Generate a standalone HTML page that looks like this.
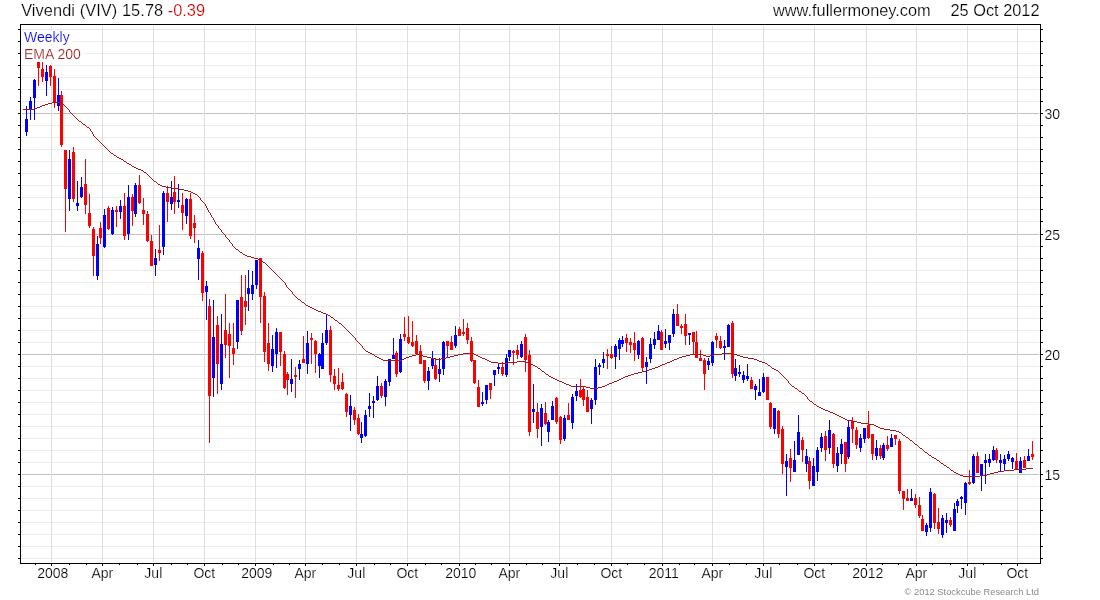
<!DOCTYPE html>
<html lang="en"><head><meta charset="utf-8"><title>Vivendi (VIV) weekly chart</title>
<style>
html,body{margin:0;padding:0;background:#fff;}
body{width:1100px;height:600px;overflow:hidden;font-family:"Liberation Sans",Arial,sans-serif;}
svg{display:block;will-change:transform;}
text{font-family:"Liberation Sans",Arial,sans-serif;stroke:#fff;stroke-width:0.2px;}
.t16{font-size:16.35px;fill:#000;}
.t14{font-size:14px;fill:#000;}
.cr{font-size:9.33px;fill:#8c8c8c;stroke:none;}
.b{fill:#0000ff;}
.r{fill:#ff0000;}
</style></head><body>
<svg width="1100" height="600" viewBox="0 0 1100 600">
<rect x="0" y="0" width="1100" height="600" fill="#ffffff"/>
<g shape-rendering="crispEdges">
<rect x="22" y="29" width="1017" height="1" fill="#ebebeb"/>
<rect x="22" y="41" width="1017" height="1" fill="#ebebeb"/>
<rect x="22" y="53" width="1017" height="1" fill="#ebebeb"/>
<rect x="22" y="65" width="1017" height="1" fill="#ebebeb"/>
<rect x="22" y="77" width="1017" height="1" fill="#ebebeb"/>
<rect x="22" y="89" width="1017" height="1" fill="#ebebeb"/>
<rect x="22" y="101" width="1017" height="1" fill="#ebebeb"/>
<rect x="22" y="113" width="1017" height="1" fill="#c0c0c0"/>
<rect x="22" y="125" width="1017" height="1" fill="#ebebeb"/>
<rect x="22" y="137" width="1017" height="1" fill="#ebebeb"/>
<rect x="22" y="149" width="1017" height="1" fill="#ebebeb"/>
<rect x="22" y="161" width="1017" height="1" fill="#ebebeb"/>
<rect x="22" y="173" width="1017" height="1" fill="#ebebeb"/>
<rect x="22" y="185" width="1017" height="1" fill="#ebebeb"/>
<rect x="22" y="197" width="1017" height="1" fill="#ebebeb"/>
<rect x="22" y="209" width="1017" height="1" fill="#ebebeb"/>
<rect x="22" y="221" width="1017" height="1" fill="#ebebeb"/>
<rect x="22" y="234" width="1017" height="1" fill="#c0c0c0"/>
<rect x="22" y="246" width="1017" height="1" fill="#ebebeb"/>
<rect x="22" y="258" width="1017" height="1" fill="#ebebeb"/>
<rect x="22" y="270" width="1017" height="1" fill="#ebebeb"/>
<rect x="22" y="282" width="1017" height="1" fill="#ebebeb"/>
<rect x="22" y="294" width="1017" height="1" fill="#ebebeb"/>
<rect x="22" y="306" width="1017" height="1" fill="#ebebeb"/>
<rect x="22" y="318" width="1017" height="1" fill="#ebebeb"/>
<rect x="22" y="330" width="1017" height="1" fill="#ebebeb"/>
<rect x="22" y="342" width="1017" height="1" fill="#ebebeb"/>
<rect x="22" y="354" width="1017" height="1" fill="#c0c0c0"/>
<rect x="22" y="366" width="1017" height="1" fill="#ebebeb"/>
<rect x="22" y="378" width="1017" height="1" fill="#ebebeb"/>
<rect x="22" y="390" width="1017" height="1" fill="#ebebeb"/>
<rect x="22" y="402" width="1017" height="1" fill="#ebebeb"/>
<rect x="22" y="414" width="1017" height="1" fill="#ebebeb"/>
<rect x="22" y="426" width="1017" height="1" fill="#ebebeb"/>
<rect x="22" y="438" width="1017" height="1" fill="#ebebeb"/>
<rect x="22" y="450" width="1017" height="1" fill="#ebebeb"/>
<rect x="22" y="462" width="1017" height="1" fill="#ebebeb"/>
<rect x="22" y="474" width="1017" height="1" fill="#c0c0c0"/>
<rect x="22" y="486" width="1017" height="1" fill="#ebebeb"/>
<rect x="22" y="498" width="1017" height="1" fill="#ebebeb"/>
<rect x="22" y="510" width="1017" height="1" fill="#ebebeb"/>
<rect x="22" y="522" width="1017" height="1" fill="#ebebeb"/>
<rect x="22" y="534" width="1017" height="1" fill="#ebebeb"/>
<rect x="22" y="546" width="1017" height="1" fill="#ebebeb"/>
<rect x="22" y="558" width="1017" height="1" fill="#ebebeb"/>
<rect x="51" y="26" width="1" height="536" fill="#dedede"/>
<rect x="102" y="26" width="1" height="536" fill="#dedede"/>
<rect x="153" y="26" width="1" height="536" fill="#dedede"/>
<rect x="204" y="26" width="1" height="536" fill="#dedede"/>
<rect x="255" y="26" width="1" height="536" fill="#dedede"/>
<rect x="305" y="26" width="1" height="536" fill="#dedede"/>
<rect x="356" y="26" width="1" height="536" fill="#dedede"/>
<rect x="407" y="26" width="1" height="536" fill="#dedede"/>
<rect x="459" y="26" width="1" height="536" fill="#dedede"/>
<rect x="509" y="26" width="1" height="536" fill="#dedede"/>
<rect x="559" y="26" width="1" height="536" fill="#dedede"/>
<rect x="611" y="26" width="1" height="536" fill="#dedede"/>
<rect x="662" y="26" width="1" height="536" fill="#dedede"/>
<rect x="712" y="26" width="1" height="536" fill="#dedede"/>
<rect x="763" y="26" width="1" height="536" fill="#dedede"/>
<rect x="814" y="26" width="1" height="536" fill="#dedede"/>
<rect x="866" y="26" width="1" height="536" fill="#dedede"/>
<rect x="916" y="26" width="1" height="536" fill="#dedede"/>
<rect x="967" y="26" width="1" height="536" fill="#dedede"/>
<rect x="1017" y="26" width="1" height="536" fill="#dedede"/>
</g>
<rect x="21" y="30" width="52" height="15" fill="#fff"/>
<rect x="21" y="46" width="64" height="16" fill="#fff"/>
<g shape-rendering="crispEdges">
<rect class="b" x="26" y="106" width="1" height="30"/><rect class="b" x="25" y="119" width="3" height="13"/>
<rect class="b" x="30" y="97" width="1" height="23"/><rect class="b" x="29" y="101" width="3" height="8"/>
<rect class="b" x="34" y="79" width="1" height="41"/><rect class="b" x="33" y="80" width="3" height="18"/>
<rect class="r" x="38" y="62" width="1" height="24"/><rect class="r" x="37" y="62" width="3" height="6"/>
<rect class="r" x="42" y="62" width="1" height="20"/><rect class="r" x="41" y="69" width="3" height="8"/>
<rect class="b" x="46" y="65" width="1" height="31"/><rect class="b" x="45" y="72" width="3" height="9"/>
<rect class="r" x="50" y="65" width="1" height="21"/><rect class="r" x="49" y="66" width="3" height="11"/>
<rect class="r" x="54" y="69" width="1" height="39"/><rect class="r" x="53" y="76" width="3" height="26"/>
<rect class="b" x="58" y="78" width="1" height="33"/><rect class="b" x="57" y="95" width="3" height="11"/>
<rect class="r" x="61" y="91" width="1" height="56"/><rect class="r" x="60" y="95" width="3" height="50"/>
<rect class="r" x="65" y="150" width="1" height="82"/><rect class="r" x="64" y="150" width="3" height="39"/>
<rect class="b" x="69" y="150" width="1" height="61"/><rect class="b" x="68" y="159" width="3" height="40"/>
<rect class="r" x="73" y="147" width="1" height="55"/><rect class="r" x="72" y="152" width="3" height="47"/>
<rect class="b" x="77" y="181" width="1" height="30"/><rect class="b" x="76" y="203" width="3" height="3"/>
<rect class="b" x="81" y="177" width="1" height="21"/><rect class="b" x="80" y="187" width="3" height="10"/>
<rect class="r" x="85" y="159" width="1" height="55"/><rect class="r" x="84" y="184" width="3" height="21"/>
<rect class="r" x="89" y="194" width="1" height="34"/><rect class="r" x="88" y="213" width="3" height="13"/>
<rect class="r" x="93" y="227" width="1" height="49"/><rect class="r" x="92" y="229" width="3" height="27"/>
<rect class="b" x="97" y="236" width="1" height="44"/><rect class="b" x="96" y="244" width="3" height="32"/>
<rect class="r" x="100" y="222" width="1" height="22"/><rect class="r" x="99" y="228" width="3" height="10"/>
<rect class="b" x="104" y="209" width="1" height="39"/><rect class="b" x="103" y="215" width="3" height="32"/>
<rect class="r" x="108" y="206" width="1" height="24"/><rect class="r" x="107" y="208" width="3" height="21"/>
<rect class="b" x="112" y="207" width="1" height="28"/><rect class="b" x="111" y="210" width="3" height="24"/>
<rect class="r" x="116" y="206" width="1" height="21"/><rect class="r" x="115" y="210" width="3" height="2"/>
<rect class="b" x="120" y="200" width="1" height="19"/><rect class="b" x="119" y="206" width="3" height="6"/>
<rect class="r" x="124" y="193" width="1" height="47"/><rect class="r" x="123" y="206" width="3" height="30"/>
<rect class="b" x="128" y="185" width="1" height="55"/><rect class="b" x="127" y="197" width="3" height="37"/>
<rect class="r" x="132" y="194" width="1" height="32"/><rect class="r" x="131" y="197" width="3" height="14"/>
<rect class="b" x="135" y="183" width="1" height="34"/><rect class="b" x="134" y="185" width="3" height="29"/>
<rect class="r" x="139" y="175" width="1" height="29"/><rect class="r" x="138" y="185" width="3" height="18"/>
<rect class="r" x="143" y="198" width="1" height="27"/><rect class="r" x="142" y="210" width="3" height="4"/>
<rect class="r" x="147" y="211" width="1" height="31"/><rect class="r" x="146" y="214" width="3" height="27"/>
<rect class="r" x="151" y="235" width="1" height="31"/><rect class="r" x="150" y="241" width="3" height="25"/>
<rect class="b" x="155" y="249" width="1" height="27"/><rect class="b" x="154" y="258" width="3" height="7"/>
<rect class="r" x="159" y="225" width="1" height="36"/><rect class="r" x="158" y="250" width="3" height="3"/>
<rect class="b" x="163" y="191" width="1" height="64"/><rect class="b" x="162" y="193" width="3" height="54"/>
<rect class="r" x="167" y="186" width="1" height="36"/><rect class="r" x="166" y="193" width="3" height="9"/>
<rect class="b" x="171" y="181" width="1" height="29"/><rect class="b" x="170" y="197" width="3" height="7"/>
<rect class="r" x="174" y="176" width="1" height="38"/><rect class="r" x="173" y="192" width="3" height="10"/>
<rect class="b" x="178" y="184" width="1" height="24"/><rect class="b" x="177" y="200" width="3" height="2"/>
<rect class="r" x="182" y="193" width="1" height="37"/><rect class="r" x="181" y="205" width="3" height="8"/>
<rect class="b" x="186" y="198" width="1" height="26"/><rect class="b" x="185" y="199" width="3" height="17"/>
<rect class="r" x="190" y="193" width="1" height="46"/><rect class="r" x="189" y="199" width="3" height="37"/>
<rect class="r" x="194" y="215" width="1" height="28"/><rect class="r" x="193" y="223" width="3" height="5"/>
<rect class="b" x="198" y="240" width="1" height="40"/><rect class="b" x="197" y="248" width="3" height="11"/>
<rect class="r" x="202" y="251" width="1" height="50"/><rect class="r" x="201" y="253" width="3" height="40"/>
<rect class="b" x="206" y="281" width="1" height="39"/><rect class="b" x="205" y="286" width="3" height="6"/>
<rect class="r" x="209" y="299" width="1" height="144"/><rect class="r" x="208" y="306" width="3" height="90"/>
<rect class="b" x="213" y="300" width="1" height="97"/><rect class="b" x="212" y="337" width="3" height="41"/>
<rect class="r" x="217" y="316" width="1" height="78"/><rect class="r" x="216" y="325" width="3" height="39"/>
<rect class="b" x="221" y="314" width="1" height="76"/><rect class="b" x="220" y="344" width="3" height="40"/>
<rect class="r" x="225" y="294" width="1" height="64"/><rect class="r" x="224" y="330" width="3" height="15"/>
<rect class="r" x="229" y="323" width="1" height="55"/><rect class="r" x="228" y="334" width="3" height="12"/>
<rect class="r" x="233" y="323" width="1" height="42"/><rect class="r" x="232" y="348" width="3" height="6"/>
<rect class="b" x="237" y="300" width="1" height="49"/><rect class="b" x="236" y="300" width="3" height="42"/>
<rect class="r" x="241" y="275" width="1" height="60"/><rect class="r" x="240" y="297" width="3" height="34"/>
<rect class="r" x="245" y="275" width="1" height="50"/><rect class="r" x="244" y="301" width="3" height="6"/>
<rect class="b" x="248" y="270" width="1" height="41"/><rect class="b" x="247" y="288" width="3" height="6"/>
<rect class="b" x="252" y="271" width="1" height="29"/><rect class="b" x="251" y="285" width="3" height="9"/>
<rect class="b" x="256" y="260" width="1" height="29"/><rect class="b" x="255" y="260" width="3" height="25"/>
<rect class="r" x="260" y="258" width="1" height="65"/><rect class="r" x="259" y="258" width="3" height="39"/>
<rect class="r" x="264" y="292" width="1" height="70"/><rect class="r" x="263" y="296" width="3" height="56"/>
<rect class="r" x="268" y="323" width="1" height="48"/><rect class="r" x="267" y="343" width="3" height="21"/>
<rect class="b" x="272" y="335" width="1" height="37"/><rect class="b" x="271" y="349" width="3" height="17"/>
<rect class="b" x="276" y="328" width="1" height="40"/><rect class="b" x="275" y="332" width="3" height="22"/>
<rect class="r" x="280" y="332" width="1" height="34"/><rect class="r" x="279" y="332" width="3" height="20"/>
<rect class="r" x="284" y="351" width="1" height="38"/><rect class="r" x="283" y="354" width="3" height="34"/>
<rect class="r" x="287" y="372" width="1" height="23"/><rect class="r" x="286" y="374" width="3" height="6"/>
<rect class="b" x="291" y="359" width="1" height="33"/><rect class="b" x="290" y="379" width="3" height="5"/>
<rect class="r" x="295" y="367" width="1" height="31"/><rect class="r" x="294" y="375" width="3" height="2"/>
<rect class="b" x="299" y="360" width="1" height="20"/><rect class="b" x="298" y="364" width="3" height="5"/>
<rect class="r" x="303" y="336" width="1" height="27"/><rect class="r" x="302" y="359" width="3" height="4"/>
<rect class="b" x="307" y="331" width="1" height="43"/><rect class="b" x="306" y="343" width="3" height="21"/>
<rect class="r" x="311" y="333" width="1" height="31"/><rect class="r" x="310" y="338" width="3" height="2"/>
<rect class="r" x="315" y="340" width="1" height="33"/><rect class="r" x="314" y="341" width="3" height="13"/>
<rect class="b" x="319" y="353" width="1" height="25"/><rect class="b" x="318" y="354" width="3" height="12"/>
<rect class="b" x="322" y="333" width="1" height="36"/><rect class="b" x="321" y="343" width="3" height="26"/>
<rect class="b" x="326" y="315" width="1" height="30"/><rect class="b" x="325" y="330" width="3" height="13"/>
<rect class="r" x="330" y="326" width="1" height="56"/><rect class="r" x="329" y="330" width="3" height="45"/>
<rect class="r" x="334" y="369" width="1" height="21"/><rect class="r" x="333" y="376" width="3" height="8"/>
<rect class="r" x="338" y="368" width="1" height="23"/><rect class="r" x="337" y="385" width="3" height="4"/>
<rect class="r" x="342" y="373" width="1" height="17"/><rect class="r" x="341" y="382" width="3" height="7"/>
<rect class="r" x="346" y="393" width="1" height="24"/><rect class="r" x="345" y="394" width="3" height="18"/>
<rect class="b" x="350" y="395" width="1" height="36"/><rect class="b" x="349" y="406" width="3" height="9"/>
<rect class="r" x="354" y="407" width="1" height="18"/><rect class="r" x="353" y="410" width="3" height="10"/>
<rect class="r" x="358" y="414" width="1" height="21"/><rect class="r" x="357" y="418" width="3" height="16"/>
<rect class="b" x="361" y="422" width="1" height="21"/><rect class="b" x="360" y="434" width="3" height="4"/>
<rect class="b" x="365" y="410" width="1" height="27"/><rect class="b" x="364" y="415" width="3" height="21"/>
<rect class="b" x="369" y="393" width="1" height="24"/><rect class="b" x="368" y="406" width="3" height="3"/>
<rect class="b" x="373" y="396" width="1" height="22"/><rect class="b" x="372" y="401" width="3" height="2"/>
<rect class="b" x="377" y="376" width="1" height="25"/><rect class="b" x="376" y="386" width="3" height="14"/>
<rect class="r" x="381" y="383" width="1" height="15"/><rect class="r" x="380" y="386" width="3" height="10"/>
<rect class="b" x="385" y="379" width="1" height="27"/><rect class="b" x="384" y="381" width="3" height="16"/>
<rect class="b" x="389" y="359" width="1" height="27"/><rect class="b" x="388" y="359" width="3" height="23"/>
<rect class="b" x="393" y="338" width="1" height="21"/><rect class="b" x="392" y="355" width="3" height="4"/>
<rect class="r" x="396" y="351" width="1" height="26"/><rect class="r" x="395" y="353" width="3" height="21"/>
<rect class="b" x="400" y="334" width="1" height="39"/><rect class="b" x="399" y="339" width="3" height="33"/>
<rect class="r" x="404" y="317" width="1" height="24"/><rect class="r" x="403" y="334" width="3" height="3"/>
<rect class="r" x="408" y="316" width="1" height="28"/><rect class="r" x="407" y="337" width="3" height="6"/>
<rect class="r" x="412" y="321" width="1" height="26"/><rect class="r" x="411" y="342" width="3" height="4"/>
<rect class="r" x="416" y="335" width="1" height="20"/><rect class="r" x="415" y="341" width="3" height="13"/>
<rect class="r" x="420" y="345" width="1" height="19"/><rect class="r" x="419" y="351" width="3" height="13"/>
<rect class="r" x="424" y="360" width="1" height="23"/><rect class="r" x="423" y="360" width="3" height="21"/>
<rect class="b" x="428" y="367" width="1" height="23"/><rect class="b" x="427" y="371" width="3" height="10"/>
<rect class="b" x="432" y="351" width="1" height="18"/><rect class="b" x="431" y="359" width="3" height="7"/>
<rect class="r" x="435" y="359" width="1" height="21"/><rect class="r" x="434" y="365" width="3" height="14"/>
<rect class="b" x="439" y="358" width="1" height="24"/><rect class="b" x="438" y="369" width="3" height="5"/>
<rect class="b" x="443" y="341" width="1" height="34"/><rect class="b" x="442" y="342" width="3" height="27"/>
<rect class="r" x="447" y="341" width="1" height="16"/><rect class="r" x="446" y="341" width="3" height="5"/>
<rect class="r" x="451" y="336" width="1" height="14"/><rect class="r" x="450" y="342" width="3" height="8"/>
<rect class="b" x="455" y="326" width="1" height="22"/><rect class="b" x="454" y="335" width="3" height="11"/>
<rect class="r" x="459" y="327" width="1" height="9"/><rect class="r" x="458" y="329" width="3" height="7"/>
<rect class="r" x="463" y="319" width="1" height="17"/><rect class="r" x="462" y="332" width="3" height="2"/>
<rect class="r" x="467" y="323" width="1" height="21"/><rect class="r" x="466" y="328" width="3" height="12"/>
<rect class="r" x="471" y="337" width="1" height="25"/><rect class="r" x="470" y="341" width="3" height="20"/>
<rect class="r" x="474" y="360" width="1" height="24"/><rect class="r" x="473" y="360" width="3" height="23"/>
<rect class="r" x="478" y="380" width="1" height="27"/><rect class="r" x="477" y="387" width="3" height="20"/>
<rect class="b" x="482" y="392" width="1" height="14"/><rect class="b" x="481" y="402" width="3" height="2"/>
<rect class="b" x="486" y="385" width="1" height="19"/><rect class="b" x="485" y="385" width="3" height="15"/>
<rect class="r" x="490" y="383" width="1" height="16"/><rect class="r" x="489" y="383" width="3" height="7"/>
<rect class="b" x="494" y="370" width="1" height="16"/><rect class="b" x="493" y="370" width="3" height="5"/>
<rect class="b" x="498" y="364" width="1" height="10"/><rect class="b" x="497" y="367" width="3" height="2"/>
<rect class="r" x="502" y="362" width="1" height="14"/><rect class="r" x="501" y="367" width="3" height="7"/>
<rect class="b" x="506" y="354" width="1" height="23"/><rect class="b" x="505" y="358" width="3" height="17"/>
<rect class="b" x="509" y="350" width="1" height="11"/><rect class="b" x="508" y="350" width="3" height="7"/>
<rect class="r" x="513" y="350" width="1" height="15"/><rect class="r" x="512" y="351" width="3" height="2"/>
<rect class="r" x="517" y="345" width="1" height="14"/><rect class="r" x="516" y="350" width="3" height="5"/>
<rect class="b" x="521" y="341" width="1" height="17"/><rect class="b" x="520" y="344" width="3" height="13"/>
<rect class="r" x="525" y="334" width="1" height="38"/><rect class="r" x="524" y="337" width="3" height="23"/>
<rect class="r" x="529" y="350" width="1" height="86"/><rect class="r" x="528" y="355" width="3" height="77"/>
<rect class="b" x="533" y="384" width="1" height="39"/><rect class="b" x="532" y="409" width="3" height="3"/>
<rect class="r" x="537" y="403" width="1" height="35"/><rect class="r" x="536" y="412" width="3" height="17"/>
<rect class="b" x="541" y="404" width="1" height="42"/><rect class="b" x="540" y="408" width="3" height="19"/>
<rect class="r" x="545" y="402" width="1" height="23"/><rect class="r" x="544" y="413" width="3" height="11"/>
<rect class="b" x="548" y="420" width="1" height="22"/><rect class="b" x="547" y="422" width="3" height="10"/>
<rect class="b" x="552" y="401" width="1" height="19"/><rect class="b" x="551" y="406" width="3" height="14"/>
<rect class="r" x="556" y="397" width="1" height="27"/><rect class="r" x="555" y="398" width="3" height="24"/>
<rect class="r" x="560" y="416" width="1" height="28"/><rect class="r" x="559" y="417" width="3" height="23"/>
<rect class="b" x="564" y="415" width="1" height="26"/><rect class="b" x="563" y="418" width="3" height="21"/>
<rect class="r" x="568" y="403" width="1" height="17"/><rect class="r" x="567" y="415" width="3" height="5"/>
<rect class="b" x="572" y="394" width="1" height="35"/><rect class="b" x="571" y="397" width="3" height="26"/>
<rect class="b" x="576" y="384" width="1" height="17"/><rect class="b" x="575" y="391" width="3" height="5"/>
<rect class="r" x="580" y="379" width="1" height="19"/><rect class="r" x="579" y="390" width="3" height="7"/>
<rect class="r" x="583" y="386" width="1" height="20"/><rect class="r" x="582" y="389" width="3" height="11"/>
<rect class="r" x="587" y="390" width="1" height="22"/><rect class="r" x="586" y="397" width="3" height="15"/>
<rect class="b" x="591" y="398" width="1" height="26"/><rect class="b" x="590" y="400" width="3" height="9"/>
<rect class="b" x="595" y="359" width="1" height="46"/><rect class="b" x="594" y="367" width="3" height="33"/>
<rect class="b" x="599" y="363" width="1" height="12"/><rect class="b" x="598" y="365" width="3" height="2"/>
<rect class="b" x="603" y="352" width="1" height="16"/><rect class="b" x="602" y="359" width="3" height="4"/>
<rect class="r" x="607" y="349" width="1" height="20"/><rect class="r" x="606" y="354" width="3" height="2"/>
<rect class="r" x="611" y="346" width="1" height="13"/><rect class="r" x="610" y="354" width="3" height="4"/>
<rect class="b" x="615" y="344" width="1" height="25"/><rect class="b" x="614" y="346" width="3" height="11"/>
<rect class="b" x="619" y="338" width="1" height="22"/><rect class="b" x="618" y="340" width="3" height="9"/>
<rect class="b" x="622" y="336" width="1" height="11"/><rect class="b" x="621" y="340" width="3" height="4"/>
<rect class="r" x="626" y="334" width="1" height="18"/><rect class="r" x="625" y="338" width="3" height="5"/>
<rect class="r" x="630" y="338" width="1" height="15"/><rect class="r" x="629" y="342" width="3" height="3"/>
<rect class="r" x="634" y="332" width="1" height="29"/><rect class="r" x="633" y="343" width="3" height="7"/>
<rect class="b" x="638" y="340" width="1" height="19"/><rect class="b" x="637" y="341" width="3" height="14"/>
<rect class="r" x="642" y="337" width="1" height="34"/><rect class="r" x="641" y="338" width="3" height="30"/>
<rect class="b" x="646" y="357" width="1" height="27"/><rect class="b" x="645" y="362" width="3" height="5"/>
<rect class="b" x="650" y="338" width="1" height="25"/><rect class="b" x="649" y="344" width="3" height="15"/>
<rect class="b" x="654" y="332" width="1" height="17"/><rect class="b" x="653" y="339" width="3" height="6"/>
<rect class="b" x="658" y="325" width="1" height="15"/><rect class="b" x="657" y="331" width="3" height="9"/>
<rect class="r" x="661" y="330" width="1" height="20"/><rect class="r" x="660" y="332" width="3" height="18"/>
<rect class="b" x="665" y="329" width="1" height="19"/><rect class="b" x="664" y="341" width="3" height="3"/>
<rect class="b" x="669" y="335" width="1" height="15"/><rect class="b" x="668" y="335" width="3" height="8"/>
<rect class="b" x="673" y="309" width="1" height="28"/><rect class="b" x="672" y="314" width="3" height="20"/>
<rect class="r" x="677" y="304" width="1" height="22"/><rect class="r" x="676" y="314" width="3" height="12"/>
<rect class="r" x="681" y="324" width="1" height="10"/><rect class="r" x="680" y="326" width="3" height="2"/>
<rect class="r" x="685" y="314" width="1" height="31"/><rect class="r" x="684" y="324" width="3" height="12"/>
<rect class="b" x="689" y="333" width="1" height="12"/><rect class="b" x="688" y="333" width="3" height="2"/>
<rect class="r" x="693" y="332" width="1" height="23"/><rect class="r" x="692" y="332" width="3" height="10"/>
<rect class="r" x="696" y="331" width="1" height="27"/><rect class="r" x="695" y="342" width="3" height="16"/>
<rect class="r" x="700" y="350" width="1" height="11"/><rect class="r" x="699" y="358" width="3" height="3"/>
<rect class="r" x="704" y="358" width="1" height="32"/><rect class="r" x="703" y="360" width="3" height="14"/>
<rect class="b" x="708" y="358" width="1" height="12"/><rect class="b" x="707" y="361" width="3" height="4"/>
<rect class="b" x="712" y="341" width="1" height="25"/><rect class="b" x="711" y="342" width="3" height="21"/>
<rect class="r" x="716" y="333" width="1" height="15"/><rect class="r" x="715" y="336" width="3" height="4"/>
<rect class="r" x="720" y="336" width="1" height="13"/><rect class="r" x="719" y="341" width="3" height="7"/>
<rect class="b" x="724" y="340" width="1" height="20"/><rect class="b" x="723" y="346" width="3" height="2"/>
<rect class="b" x="728" y="324" width="1" height="23"/><rect class="b" x="727" y="325" width="3" height="22"/>
<rect class="r" x="732" y="321" width="1" height="57"/><rect class="r" x="731" y="323" width="3" height="51"/>
<rect class="b" x="735" y="359" width="1" height="22"/><rect class="b" x="734" y="368" width="3" height="8"/>
<rect class="b" x="739" y="365" width="1" height="12"/><rect class="b" x="738" y="372" width="3" height="2"/>
<rect class="b" x="743" y="371" width="1" height="12"/><rect class="b" x="742" y="375" width="3" height="5"/>
<rect class="b" x="747" y="364" width="1" height="17"/><rect class="b" x="746" y="376" width="3" height="3"/>
<rect class="r" x="751" y="377" width="1" height="12"/><rect class="r" x="750" y="380" width="3" height="9"/>
<rect class="b" x="755" y="384" width="1" height="16"/><rect class="b" x="754" y="386" width="3" height="4"/>
<rect class="b" x="759" y="379" width="1" height="17"/><rect class="b" x="758" y="392" width="3" height="4"/>
<rect class="b" x="763" y="373" width="1" height="20"/><rect class="b" x="762" y="377" width="3" height="15"/>
<rect class="r" x="767" y="377" width="1" height="23"/><rect class="r" x="766" y="377" width="3" height="23"/>
<rect class="r" x="770" y="402" width="1" height="27"/><rect class="r" x="769" y="403" width="3" height="24"/>
<rect class="b" x="774" y="408" width="1" height="26"/><rect class="b" x="773" y="408" width="3" height="21"/>
<rect class="r" x="778" y="410" width="1" height="28"/><rect class="r" x="777" y="411" width="3" height="23"/>
<rect class="r" x="782" y="426" width="1" height="48"/><rect class="r" x="781" y="429" width="3" height="35"/>
<rect class="b" x="786" y="454" width="1" height="42"/><rect class="b" x="785" y="461" width="3" height="6"/>
<rect class="r" x="790" y="449" width="1" height="33"/><rect class="r" x="789" y="458" width="3" height="10"/>
<rect class="b" x="794" y="441" width="1" height="31"/><rect class="b" x="793" y="460" width="3" height="12"/>
<rect class="b" x="798" y="415" width="1" height="40"/><rect class="b" x="797" y="432" width="3" height="23"/>
<rect class="r" x="802" y="437" width="1" height="25"/><rect class="r" x="801" y="440" width="3" height="10"/>
<rect class="b" x="806" y="449" width="1" height="23"/><rect class="b" x="805" y="456" width="3" height="8"/>
<rect class="r" x="809" y="457" width="1" height="32"/><rect class="r" x="808" y="461" width="3" height="20"/>
<rect class="b" x="813" y="458" width="1" height="28"/><rect class="b" x="812" y="466" width="3" height="20"/>
<rect class="b" x="817" y="447" width="1" height="34"/><rect class="b" x="816" y="450" width="3" height="22"/>
<rect class="b" x="821" y="433" width="1" height="19"/><rect class="b" x="820" y="437" width="3" height="11"/>
<rect class="r" x="825" y="431" width="1" height="30"/><rect class="r" x="824" y="436" width="3" height="14"/>
<rect class="b" x="829" y="420" width="1" height="34"/><rect class="b" x="828" y="430" width="3" height="18"/>
<rect class="r" x="833" y="433" width="1" height="35"/><rect class="r" x="832" y="434" width="3" height="30"/>
<rect class="b" x="837" y="447" width="1" height="25"/><rect class="b" x="836" y="453" width="3" height="13"/>
<rect class="b" x="841" y="439" width="1" height="25"/><rect class="b" x="840" y="444" width="3" height="10"/>
<rect class="r" x="845" y="442" width="1" height="30"/><rect class="r" x="844" y="442" width="3" height="22"/>
<rect class="b" x="848" y="421" width="1" height="38"/><rect class="b" x="847" y="427" width="3" height="30"/>
<rect class="r" x="852" y="417" width="1" height="26"/><rect class="r" x="851" y="421" width="3" height="8"/>
<rect class="r" x="856" y="427" width="1" height="22"/><rect class="r" x="855" y="430" width="3" height="15"/>
<rect class="b" x="860" y="434" width="1" height="18"/><rect class="b" x="859" y="438" width="3" height="10"/>
<rect class="b" x="864" y="428" width="1" height="15"/><rect class="b" x="863" y="428" width="3" height="11"/>
<rect class="r" x="868" y="411" width="1" height="28"/><rect class="r" x="867" y="425" width="3" height="13"/>
<rect class="r" x="872" y="434" width="1" height="26"/><rect class="r" x="871" y="434" width="3" height="20"/>
<rect class="b" x="876" y="440" width="1" height="20"/><rect class="b" x="875" y="448" width="3" height="8"/>
<rect class="r" x="880" y="445" width="1" height="14"/><rect class="r" x="879" y="448" width="3" height="8"/>
<rect class="b" x="883" y="443" width="1" height="17"/><rect class="b" x="882" y="445" width="3" height="13"/>
<rect class="r" x="887" y="436" width="1" height="15"/><rect class="r" x="886" y="445" width="3" height="4"/>
<rect class="b" x="891" y="434" width="1" height="13"/><rect class="b" x="890" y="438" width="3" height="9"/>
<rect class="r" x="895" y="435" width="1" height="10"/><rect class="r" x="894" y="435" width="3" height="4"/>
<rect class="r" x="899" y="439" width="1" height="55"/><rect class="r" x="898" y="441" width="3" height="50"/>
<rect class="r" x="903" y="491" width="1" height="19"/><rect class="r" x="902" y="491" width="3" height="8"/>
<rect class="r" x="907" y="489" width="1" height="12"/><rect class="r" x="906" y="498" width="3" height="3"/>
<rect class="b" x="911" y="489" width="1" height="12"/><rect class="b" x="910" y="498" width="3" height="3"/>
<rect class="r" x="915" y="494" width="1" height="14"/><rect class="r" x="914" y="498" width="3" height="7"/>
<rect class="r" x="919" y="497" width="1" height="21"/><rect class="r" x="918" y="505" width="3" height="11"/>
<rect class="r" x="922" y="515" width="1" height="16"/><rect class="r" x="921" y="519" width="3" height="12"/>
<rect class="b" x="926" y="523" width="1" height="13"/><rect class="b" x="925" y="525" width="3" height="7"/>
<rect class="b" x="930" y="488" width="1" height="44"/><rect class="b" x="929" y="492" width="3" height="36"/>
<rect class="r" x="934" y="493" width="1" height="36"/><rect class="r" x="933" y="494" width="3" height="29"/>
<rect class="r" x="938" y="508" width="1" height="26"/><rect class="r" x="937" y="522" width="3" height="7"/>
<rect class="b" x="942" y="515" width="1" height="23"/><rect class="b" x="941" y="518" width="3" height="17"/>
<rect class="b" x="946" y="513" width="1" height="20"/><rect class="b" x="945" y="520" width="3" height="3"/>
<rect class="r" x="950" y="517" width="1" height="10"/><rect class="r" x="949" y="520" width="3" height="5"/>
<rect class="b" x="954" y="503" width="1" height="28"/><rect class="b" x="953" y="509" width="3" height="22"/>
<rect class="b" x="957" y="499" width="1" height="14"/><rect class="b" x="956" y="501" width="3" height="5"/>
<rect class="b" x="961" y="496" width="1" height="13"/><rect class="b" x="960" y="497" width="3" height="2"/>
<rect class="b" x="965" y="482" width="1" height="33"/><rect class="b" x="964" y="483" width="3" height="20"/>
<rect class="r" x="969" y="470" width="1" height="15"/><rect class="r" x="968" y="482" width="3" height="2"/>
<rect class="b" x="973" y="454" width="1" height="30"/><rect class="b" x="972" y="456" width="3" height="27"/>
<rect class="r" x="977" y="452" width="1" height="21"/><rect class="r" x="976" y="456" width="3" height="17"/>
<rect class="b" x="981" y="464" width="1" height="27"/><rect class="b" x="980" y="464" width="3" height="11"/>
<rect class="b" x="985" y="454" width="1" height="30"/><rect class="b" x="984" y="460" width="3" height="3"/>
<rect class="b" x="989" y="454" width="1" height="13"/><rect class="b" x="988" y="459" width="3" height="4"/>
<rect class="b" x="993" y="446" width="1" height="15"/><rect class="b" x="992" y="450" width="3" height="10"/>
<rect class="r" x="996" y="448" width="1" height="15"/><rect class="r" x="995" y="450" width="3" height="10"/>
<rect class="b" x="1000" y="454" width="1" height="18"/><rect class="b" x="999" y="460" width="3" height="3"/>
<rect class="b" x="1004" y="455" width="1" height="15"/><rect class="b" x="1003" y="459" width="3" height="5"/>
<rect class="b" x="1008" y="451" width="1" height="10"/><rect class="b" x="1007" y="454" width="3" height="5"/>
<rect class="b" x="1012" y="457" width="1" height="12"/><rect class="b" x="1011" y="458" width="3" height="4"/>
<rect class="r" x="1016" y="453" width="1" height="17"/><rect class="r" x="1015" y="461" width="3" height="9"/>
<rect class="b" x="1020" y="457" width="1" height="16"/><rect class="b" x="1019" y="461" width="3" height="12"/>
<rect class="r" x="1024" y="456" width="1" height="12"/><rect class="r" x="1023" y="460" width="3" height="8"/>
<rect class="b" x="1028" y="449" width="1" height="12"/><rect class="b" x="1027" y="456" width="3" height="5"/>
<rect class="r" x="1032" y="441" width="1" height="19"/><rect class="r" x="1031" y="454" width="3" height="3"/>
</g>
<path d="M52 102.5h10M48 103.5h4M62 103.5h1M45 104.5h3M63 104.5h1M42 105.5h3M64 105.5h1M40 106.5h2M65 106.5h1M37 107.5h3M66 107.5h1M34 108.5h3M67 108.5h1M23 109.5h11M68 109.5h1M69 110.5h1M69 111.5h1M70 112.5h1M71 113.5h1M72 114.5h1M73 115.5h1M74 116.5h1M75 117.5h1M76 118.5h1M77 119.5h1M78 120.5h1M79 121.5h2M81 122.5h1M82 123.5h1M83 124.5h2M85 125.5h1M86 126.5h1M87 127.5h2M89 128.5h1M90 129.5h1M90 130.5h1M91 131.5h1M92 132.5h1M92 133.5h1M93 134.5h1M93 135.5h1M94 136.5h1M95 137.5h1M96 138.5h1M97 139.5h1M98 140.5h1M99 141.5h1M100 142.5h1M101 143.5h1M102 144.5h1M103 145.5h1M104 146.5h1M105 147.5h1M106 148.5h1M107 149.5h1M108 150.5h1M109 151.5h1M110 152.5h1M111 153.5h2M113 154.5h1M114 155.5h2M116 156.5h1M117 157.5h2M119 158.5h2M121 159.5h2M123 160.5h1M124 161.5h2M126 162.5h1M127 163.5h2M129 164.5h2M131 165.5h1M132 166.5h2M134 167.5h2M136 168.5h2M138 169.5h3M141 170.5h2M143 171.5h1M144 172.5h2M146 173.5h1M147 174.5h1M148 175.5h1M149 176.5h1M150 177.5h1M151 178.5h1M152 179.5h1M153 180.5h1M154 181.5h2M156 182.5h1M157 183.5h1M158 184.5h2M160 185.5h2M162 186.5h4M166 187.5h6M172 188.5h7M179 189.5h5M184 190.5h4M188 191.5h3M191 192.5h2M193 193.5h2M195 194.5h2M197 195.5h1M198 196.5h1M199 197.5h1M200 198.5h1M200 199.5h1M201 200.5h1M202 201.5h1M203 202.5h1M204 203.5h1M205 204.5h1M205 205.5h1M206 206.5h1M206 207.5h1M207 208.5h1M207 209.5h1M208 210.5h1M208 211.5h1M209 212.5h1M210 213.5h1M210 214.5h1M211 215.5h1M211 216.5h1M212 217.5h1M213 218.5h1M213 219.5h1M214 220.5h1M214 221.5h1M215 222.5h1M215 223.5h1M216 224.5h1M217 225.5h1M218 226.5h1M218 227.5h1M219 228.5h1M220 229.5h1M221 230.5h1M221 231.5h1M222 232.5h1M223 233.5h1M224 234.5h1M225 235.5h1M225 236.5h1M226 237.5h1M227 238.5h1M228 239.5h1M229 240.5h1M229 241.5h1M230 242.5h1M231 243.5h1M232 244.5h1M232 245.5h1M233 246.5h1M234 247.5h1M235 248.5h1M236 249.5h2M238 250.5h1M239 251.5h1M240 252.5h2M242 253.5h1M243 254.5h2M245 255.5h2M247 256.5h4M251 257.5h3M254 258.5h4M258 259.5h3M261 260.5h1M262 261.5h1M263 262.5h2M265 263.5h1M266 264.5h1M267 265.5h1M268 266.5h1M269 267.5h1M270 268.5h1M271 269.5h1M272 270.5h1M273 271.5h1M274 272.5h1M275 273.5h1M276 274.5h1M277 275.5h1M278 276.5h1M279 277.5h1M280 278.5h1M281 279.5h1M282 280.5h1M283 281.5h1M284 282.5h1M285 283.5h1M285 284.5h1M286 285.5h1M286 286.5h1M287 287.5h1M288 288.5h1M289 289.5h1M290 290.5h1M291 291.5h1M292 292.5h1M292 293.5h1M293 294.5h1M294 295.5h1M295 296.5h1M296 297.5h1M297 298.5h1M298 299.5h2M300 300.5h1M301 301.5h1M302 302.5h2M304 303.5h1M305 304.5h1M306 305.5h2M308 306.5h2M310 307.5h2M312 308.5h2M314 309.5h2M316 310.5h2M318 311.5h3M321 312.5h2M323 313.5h3M326 314.5h2M328 315.5h2M330 316.5h1M331 317.5h2M333 318.5h1M334 319.5h1M335 320.5h2M337 321.5h1M338 322.5h1M339 323.5h2M341 324.5h1M342 325.5h1M343 326.5h1M344 327.5h1M345 328.5h1M346 329.5h1M347 330.5h1M348 331.5h1M349 332.5h1M350 333.5h1M351 334.5h1M352 335.5h1M353 336.5h1M354 337.5h1M355 338.5h1M355 339.5h1M356 340.5h1M357 341.5h1M358 342.5h1M359 343.5h1M360 344.5h1M361 345.5h1M362 346.5h1M362 347.5h1M363 348.5h1M364 349.5h1M365 350.5h1M366 351.5h2M368 352.5h2M370 353.5h2M463 353.5h11M722 353.5h10M372 354.5h2M416 354.5h3M458 354.5h5M474 354.5h2M690 354.5h13M714 354.5h8M732 354.5h5M374 355.5h1M412 355.5h4M419 355.5h4M454 355.5h4M476 355.5h2M686 355.5h4M703 355.5h3M710 355.5h4M737 355.5h3M375 356.5h2M409 356.5h3M423 356.5h4M450 356.5h4M478 356.5h2M682 356.5h4M706 356.5h4M740 356.5h3M377 357.5h2M406 357.5h3M427 357.5h4M446 357.5h4M480 357.5h2M679 357.5h3M743 357.5h5M379 358.5h2M404 358.5h2M431 358.5h5M441 358.5h5M482 358.5h3M677 358.5h2M748 358.5h6M381 359.5h2M402 359.5h2M436 359.5h5M485 359.5h2M674 359.5h3M754 359.5h3M383 360.5h19M487 360.5h2M672 360.5h2M757 360.5h2M489 361.5h2M517 361.5h8M670 361.5h2M759 361.5h3M491 362.5h7M508 362.5h9M525 362.5h4M667 362.5h3M762 362.5h3M498 363.5h10M529 363.5h2M665 363.5h2M765 363.5h2M531 364.5h2M662 364.5h3M767 364.5h1M533 365.5h2M660 365.5h2M768 365.5h2M535 366.5h2M658 366.5h2M770 366.5h1M537 367.5h1M655 367.5h3M771 367.5h1M538 368.5h2M652 368.5h3M772 368.5h2M540 369.5h1M649 369.5h3M774 369.5h2M541 370.5h1M646 370.5h3M776 370.5h2M542 371.5h2M642 371.5h4M778 371.5h1M544 372.5h1M638 372.5h4M779 372.5h1M545 373.5h1M634 373.5h4M780 373.5h1M546 374.5h2M631 374.5h3M781 374.5h1M548 375.5h1M628 375.5h3M782 375.5h1M549 376.5h2M625 376.5h3M783 376.5h1M551 377.5h2M623 377.5h2M784 377.5h1M553 378.5h2M621 378.5h2M785 378.5h1M555 379.5h2M619 379.5h2M786 379.5h1M557 380.5h2M617 380.5h2M787 380.5h1M559 381.5h3M614 381.5h3M788 381.5h1M562 382.5h2M612 382.5h2M788 382.5h1M564 383.5h2M609 383.5h3M789 383.5h1M566 384.5h3M607 384.5h2M790 384.5h1M569 385.5h2M605 385.5h2M791 385.5h1M571 386.5h15M602 386.5h3M792 386.5h2M586 387.5h4M598 387.5h4M794 387.5h1M590 388.5h8M795 388.5h2M797 389.5h1M798 390.5h1M799 391.5h2M801 392.5h1M802 393.5h2M804 394.5h1M805 395.5h1M806 396.5h1M807 397.5h1M807 398.5h1M808 399.5h1M809 400.5h1M810 401.5h2M812 402.5h1M813 403.5h1M814 404.5h2M816 405.5h1M817 406.5h2M819 407.5h2M821 408.5h2M823 409.5h2M825 410.5h3M828 411.5h2M830 412.5h3M833 413.5h2M835 414.5h2M837 415.5h2M839 416.5h2M841 417.5h2M843 418.5h2M845 419.5h2M847 420.5h5M852 421.5h5M857 422.5h4M861 423.5h7M868 424.5h6M874 425.5h2M876 426.5h2M878 427.5h2M880 428.5h4M884 429.5h6M890 430.5h6M896 431.5h3M899 432.5h2M901 433.5h1M902 434.5h1M903 435.5h2M905 436.5h1M906 437.5h2M908 438.5h1M909 439.5h1M910 440.5h2M912 441.5h1M913 442.5h1M914 443.5h1M915 444.5h2M917 445.5h1M918 446.5h1M919 447.5h1M920 448.5h2M922 449.5h1M923 450.5h1M924 451.5h1M925 452.5h2M927 453.5h1M928 454.5h1M929 455.5h2M931 456.5h1M932 457.5h2M934 458.5h2M936 459.5h1M937 460.5h2M939 461.5h1M940 462.5h1M941 463.5h2M943 464.5h1M944 465.5h2M946 466.5h1M947 467.5h2M949 468.5h1M1026 468.5h7M950 469.5h1M1014 469.5h12M951 470.5h2M1004 470.5h10M953 471.5h1M998 471.5h6M954 472.5h2M994 472.5h4M956 473.5h2M990 473.5h4M958 474.5h2M987 474.5h3M960 475.5h3M980 475.5h7M963 476.5h17" fill="none" stroke="#a01818" stroke-width="1" shape-rendering="crispEdges"/>
<g shape-rendering="crispEdges" fill="#000">
<rect x="20" y="24" width="1021" height="1"/>
<rect x="20" y="563" width="1021" height="1"/>
<rect x="20" y="24" width="1" height="540"/>
<rect x="1040" y="24" width="1" height="540"/>
<rect x="18" y="29" width="2" height="1"/>
<rect x="1041" y="29" width="2" height="1"/>
<rect x="18" y="41" width="2" height="1"/>
<rect x="1041" y="41" width="2" height="1"/>
<rect x="18" y="53" width="2" height="1"/>
<rect x="1041" y="53" width="2" height="1"/>
<rect x="18" y="65" width="2" height="1"/>
<rect x="1041" y="65" width="2" height="1"/>
<rect x="18" y="77" width="2" height="1"/>
<rect x="1041" y="77" width="2" height="1"/>
<rect x="18" y="89" width="2" height="1"/>
<rect x="1041" y="89" width="2" height="1"/>
<rect x="18" y="101" width="2" height="1"/>
<rect x="1041" y="101" width="2" height="1"/>
<rect x="18" y="113" width="2" height="1"/>
<rect x="1041" y="113" width="2" height="1"/>
<rect x="18" y="125" width="2" height="1"/>
<rect x="1041" y="125" width="2" height="1"/>
<rect x="18" y="137" width="2" height="1"/>
<rect x="1041" y="137" width="2" height="1"/>
<rect x="18" y="149" width="2" height="1"/>
<rect x="1041" y="149" width="2" height="1"/>
<rect x="18" y="161" width="2" height="1"/>
<rect x="1041" y="161" width="2" height="1"/>
<rect x="18" y="173" width="2" height="1"/>
<rect x="1041" y="173" width="2" height="1"/>
<rect x="18" y="185" width="2" height="1"/>
<rect x="1041" y="185" width="2" height="1"/>
<rect x="18" y="197" width="2" height="1"/>
<rect x="1041" y="197" width="2" height="1"/>
<rect x="18" y="209" width="2" height="1"/>
<rect x="1041" y="209" width="2" height="1"/>
<rect x="18" y="221" width="2" height="1"/>
<rect x="1041" y="221" width="2" height="1"/>
<rect x="18" y="234" width="2" height="1"/>
<rect x="1041" y="234" width="2" height="1"/>
<rect x="18" y="246" width="2" height="1"/>
<rect x="1041" y="246" width="2" height="1"/>
<rect x="18" y="258" width="2" height="1"/>
<rect x="1041" y="258" width="2" height="1"/>
<rect x="18" y="270" width="2" height="1"/>
<rect x="1041" y="270" width="2" height="1"/>
<rect x="18" y="282" width="2" height="1"/>
<rect x="1041" y="282" width="2" height="1"/>
<rect x="18" y="294" width="2" height="1"/>
<rect x="1041" y="294" width="2" height="1"/>
<rect x="18" y="306" width="2" height="1"/>
<rect x="1041" y="306" width="2" height="1"/>
<rect x="18" y="318" width="2" height="1"/>
<rect x="1041" y="318" width="2" height="1"/>
<rect x="18" y="330" width="2" height="1"/>
<rect x="1041" y="330" width="2" height="1"/>
<rect x="18" y="342" width="2" height="1"/>
<rect x="1041" y="342" width="2" height="1"/>
<rect x="18" y="354" width="2" height="1"/>
<rect x="1041" y="354" width="2" height="1"/>
<rect x="18" y="366" width="2" height="1"/>
<rect x="1041" y="366" width="2" height="1"/>
<rect x="18" y="378" width="2" height="1"/>
<rect x="1041" y="378" width="2" height="1"/>
<rect x="18" y="390" width="2" height="1"/>
<rect x="1041" y="390" width="2" height="1"/>
<rect x="18" y="402" width="2" height="1"/>
<rect x="1041" y="402" width="2" height="1"/>
<rect x="18" y="414" width="2" height="1"/>
<rect x="1041" y="414" width="2" height="1"/>
<rect x="18" y="426" width="2" height="1"/>
<rect x="1041" y="426" width="2" height="1"/>
<rect x="18" y="438" width="2" height="1"/>
<rect x="1041" y="438" width="2" height="1"/>
<rect x="18" y="450" width="2" height="1"/>
<rect x="1041" y="450" width="2" height="1"/>
<rect x="18" y="462" width="2" height="1"/>
<rect x="1041" y="462" width="2" height="1"/>
<rect x="18" y="474" width="2" height="1"/>
<rect x="1041" y="474" width="2" height="1"/>
<rect x="18" y="486" width="2" height="1"/>
<rect x="1041" y="486" width="2" height="1"/>
<rect x="18" y="498" width="2" height="1"/>
<rect x="1041" y="498" width="2" height="1"/>
<rect x="18" y="510" width="2" height="1"/>
<rect x="1041" y="510" width="2" height="1"/>
<rect x="18" y="522" width="2" height="1"/>
<rect x="1041" y="522" width="2" height="1"/>
<rect x="18" y="534" width="2" height="1"/>
<rect x="1041" y="534" width="2" height="1"/>
<rect x="18" y="546" width="2" height="1"/>
<rect x="1041" y="546" width="2" height="1"/>
<rect x="18" y="558" width="2" height="1"/>
<rect x="1041" y="558" width="2" height="1"/>
<rect x="51" y="564" width="1" height="2"/>
<rect x="102" y="564" width="1" height="2"/>
<rect x="153" y="564" width="1" height="2"/>
<rect x="204" y="564" width="1" height="2"/>
<rect x="255" y="564" width="1" height="2"/>
<rect x="305" y="564" width="1" height="2"/>
<rect x="356" y="564" width="1" height="2"/>
<rect x="407" y="564" width="1" height="2"/>
<rect x="459" y="564" width="1" height="2"/>
<rect x="509" y="564" width="1" height="2"/>
<rect x="559" y="564" width="1" height="2"/>
<rect x="611" y="564" width="1" height="2"/>
<rect x="662" y="564" width="1" height="2"/>
<rect x="712" y="564" width="1" height="2"/>
<rect x="763" y="564" width="1" height="2"/>
<rect x="814" y="564" width="1" height="2"/>
<rect x="866" y="564" width="1" height="2"/>
<rect x="916" y="564" width="1" height="2"/>
<rect x="967" y="564" width="1" height="2"/>
<rect x="1017" y="564" width="1" height="2"/>
<rect x="35" y="564" width="1" height="1"/>
<rect x="69" y="564" width="1" height="1"/>
<rect x="86" y="564" width="1" height="1"/>
<rect x="119" y="564" width="1" height="1"/>
<rect x="137" y="564" width="1" height="1"/>
<rect x="171" y="564" width="1" height="1"/>
<rect x="187" y="564" width="1" height="1"/>
<rect x="222" y="564" width="1" height="1"/>
<rect x="238" y="564" width="1" height="1"/>
<rect x="273" y="564" width="1" height="1"/>
<rect x="289" y="564" width="1" height="1"/>
<rect x="322" y="564" width="1" height="1"/>
<rect x="339" y="564" width="1" height="1"/>
<rect x="374" y="564" width="1" height="1"/>
<rect x="390" y="564" width="1" height="1"/>
<rect x="425" y="564" width="1" height="1"/>
<rect x="441" y="564" width="1" height="1"/>
<rect x="475" y="564" width="1" height="1"/>
<rect x="491" y="564" width="1" height="1"/>
<rect x="526" y="564" width="1" height="1"/>
<rect x="542" y="564" width="1" height="1"/>
<rect x="577" y="564" width="1" height="1"/>
<rect x="594" y="564" width="1" height="1"/>
<rect x="627" y="564" width="1" height="1"/>
<rect x="644" y="564" width="1" height="1"/>
<rect x="679" y="564" width="1" height="1"/>
<rect x="694" y="564" width="1" height="1"/>
<rect x="729" y="564" width="1" height="1"/>
<rect x="746" y="564" width="1" height="1"/>
<rect x="779" y="564" width="1" height="1"/>
<rect x="797" y="564" width="1" height="1"/>
<rect x="831" y="564" width="1" height="1"/>
<rect x="848" y="564" width="1" height="1"/>
<rect x="882" y="564" width="1" height="1"/>
<rect x="898" y="564" width="1" height="1"/>
<rect x="932" y="564" width="1" height="1"/>
<rect x="950" y="564" width="1" height="1"/>
<rect x="983" y="564" width="1" height="1"/>
<rect x="1001" y="564" width="1" height="1"/>
</g>
<text class="t16" x="21.2" y="16" style="letter-spacing:0.08px">Vivendi (VIV) 15.78</text>
<text class="t16" x="167.8" y="16" style="fill:#d40000">-0.39</text>
<text class="t16" x="773" y="16">www.fullermoney.com</text>
<text class="t16" x="1039.5" y="16" text-anchor="end">25 Oct 2012</text>
<text class="t14" x="24" y="42" style="fill:#0000e6">Weekly</text>
<text class="t14" x="24" y="59" style="fill:#a02020">EMA 200</text>
<text class="t14" x="1044.5" y="118.7">30</text>
<text class="t14" x="1044.5" y="239.7">25</text>
<text class="t14" x="1044.5" y="359.7">20</text>
<text class="t14" x="1044.5" y="479.7">15</text>
<text class="t14" x="52.8" y="578" text-anchor="middle">2008</text>
<text class="t14" x="102.3" y="578" text-anchor="middle">Apr</text>
<text class="t14" x="153.3" y="578" text-anchor="middle">Jul</text>
<text class="t14" x="204.3" y="578" text-anchor="middle">Oct</text>
<text class="t14" x="256.8" y="578" text-anchor="middle">2009</text>
<text class="t14" x="305.3" y="578" text-anchor="middle">Apr</text>
<text class="t14" x="356.3" y="578" text-anchor="middle">Jul</text>
<text class="t14" x="407.3" y="578" text-anchor="middle">Oct</text>
<text class="t14" x="460.8" y="578" text-anchor="middle">2010</text>
<text class="t14" x="509.3" y="578" text-anchor="middle">Apr</text>
<text class="t14" x="559.3" y="578" text-anchor="middle">Jul</text>
<text class="t14" x="611.3" y="578" text-anchor="middle">Oct</text>
<text class="t14" x="663.8" y="578" text-anchor="middle">2011</text>
<text class="t14" x="712.3" y="578" text-anchor="middle">Apr</text>
<text class="t14" x="763.3" y="578" text-anchor="middle">Jul</text>
<text class="t14" x="814.3" y="578" text-anchor="middle">Oct</text>
<text class="t14" x="867.8" y="578" text-anchor="middle">2012</text>
<text class="t14" x="916.3" y="578" text-anchor="middle">Apr</text>
<text class="t14" x="967.3" y="578" text-anchor="middle">Jul</text>
<text class="t14" x="1017.3" y="578" text-anchor="middle">Oct</text>
<text class="cr" x="1039" y="594.6" text-anchor="end">© 2012 Stockcube Research Ltd</text>
</svg>
</body></html>
